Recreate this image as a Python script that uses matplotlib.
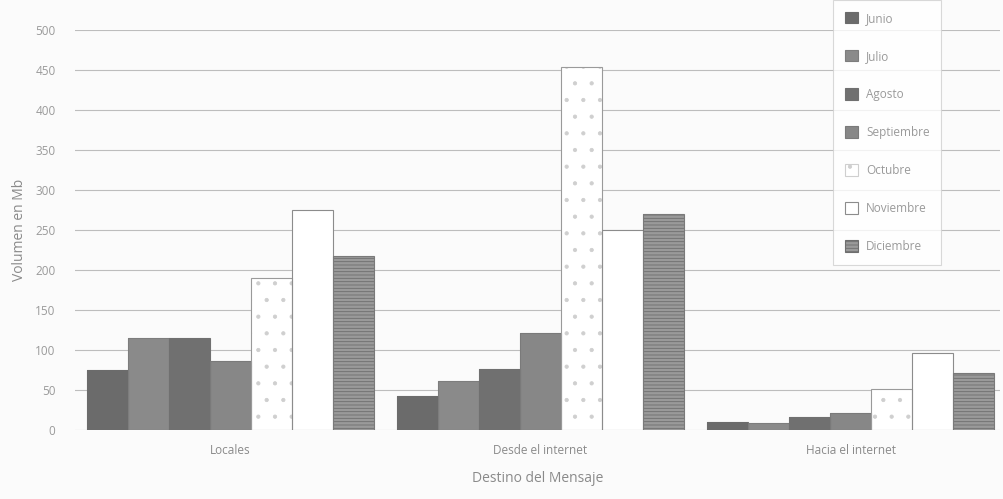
import numpy as np
import matplotlib
matplotlib.use("Agg")
import matplotlib.pyplot as plt
from matplotlib.patches import Patch

destinos = ["Locales", "Desde el internet", "Hacia el internet"]
meses = ["Junio", "Julio", "Agosto", "Septiembre", "Octubre", "Noviembre", "Diciembre"]

junio = [75, 43, 10]
julio = [115, 62, 9]
agosto = [115, 77, 16]
septiembre = [87, 121, 22]
octubre = [190, 454, 51]
noviembre = [275, 250, 96]
diciembre = [217, 270, 72]

series = [junio, julio, agosto, septiembre, octubre, noviembre, diciembre]
y_ticks = list(range(0, 501, 50))

# fill, outline, hatch colour, hatch for each month
estilos = [
    ("#6b6b6b", "#6b6b6b", "#6b6b6b", None),
    ("#8a8a8a", "#7d7d7d", "#7d7d7d", None),
    ("#707070", "#707070", "#707070", None),
    ("#878787", "#7a7a7a", "#7a7a7a", None),
    ("#ffffff", "#9a9a9a", "#cfcfcf", "."),
    ("#ffffff", "#8c8c8c", "#8c8c8c", None),
    ("#9a9a9a", "#7a7a7a", "#6e6e6e", "-----"),
]

txt = "#8a8a8a"
plt.rcParams["font.family"] = ["Open Sans", "DejaVu Sans"]
plt.rcParams["hatch.linewidth"] = 0.6

fig = plt.figure(figsize=(10.04, 4.99), dpi=100, facecolor="#fbfbfb")
ax = fig.add_axes([0.0747, 0.138, 0.921, 0.802])
ax.set_facecolor("#fbfbfb")

x = np.arange(len(destinos))
w = 0.132
for i, (vals, (fc, ec, hc, h)) in enumerate(zip(series, estilos)):
    off = (i - 3) * w
    # filled body with its hatch texture
    ax.bar(x + off, vals, width=w, color=fc, edgecolor=hc, hatch=h,
           linewidth=0, zorder=3)
    # crisp outline on top
    ax.bar(x + off, vals, width=w, fill=False, edgecolor=ec,
           linewidth=0.8, zorder=4)

ax.set_ylim(0, 500)
ax.set_xlim(-0.5, 2.48)
ax.set_yticks(y_ticks)
ax.yaxis.grid(True, color="#bdbdbd", linewidth=0.8, zorder=0)
ax.set_axisbelow(True)
for s in ax.spines.values():
    s.set_visible(False)
ax.tick_params(axis="y", length=0, labelsize=8.5, labelcolor="#9a9a9a", pad=14)
ax.tick_params(axis="x", length=0, labelsize=8.5, labelcolor=txt, pad=10)
ax.set_xticks(x)
ax.set_xticklabels(destinos)
ax.set_ylabel("Volumen en Mb", fontsize=10, color=txt, labelpad=6)
ax.set_xlabel("Destino del Mensaje", fontsize=10, color=txt, labelpad=10)

handles = [Patch(facecolor=fc, edgecolor=ec if h is None else hc, hatch=h,
                 linewidth=0.8)
           for fc, ec, hc, h in estilos]
leg = fig.legend(handles, meses, loc="upper left",
                 bbox_to_anchor=(833 / 1004, 1.0), fontsize=8.5,
                 labelspacing=2.12, handlelength=1.1, handleheight=1.1,
                 handletextpad=0.7, borderpad=1.0, frameon=True,
                 fancybox=False, borderaxespad=0.0)
leg.get_frame().set_edgecolor("#cfcfcf")
leg.get_frame().set_facecolor("#ffffff")
leg.get_frame().set_linewidth(0.8)
for t in leg.get_texts():
    t.set_color("#9a9a9a")

fig.savefig("out.png", dpi=100, facecolor=fig.get_facecolor())
